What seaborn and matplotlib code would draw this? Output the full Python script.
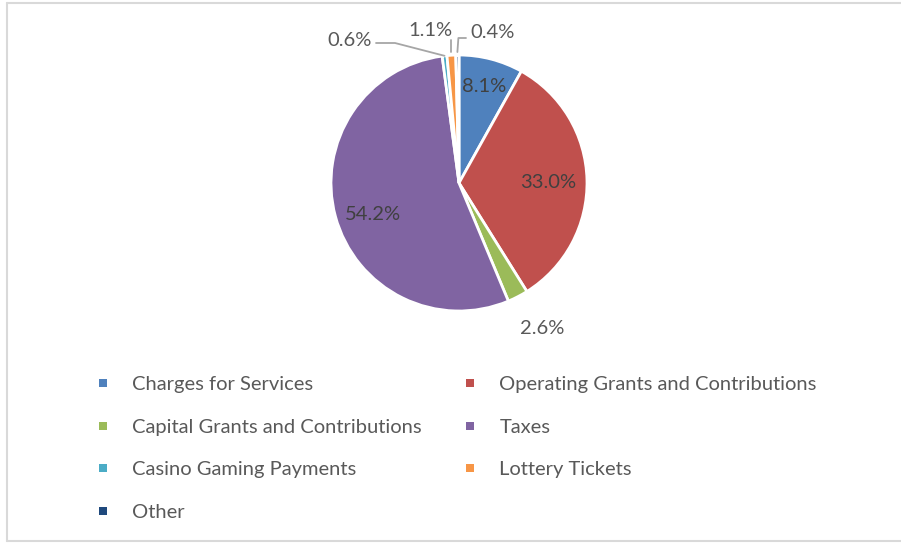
import matplotlib
matplotlib.use("Agg")
import matplotlib.pyplot as plt
import numpy as np
import seaborn as sns
from matplotlib.lines import Line2D

# revenue shares (%)
categories = ["Charges for Services", "Operating Grants and Contributions",
              "Capital Grants and Contributions", "Taxes",
              "Casino Gaming Payments", "Lottery Tickets", "Other"]
shares = [8.1, 33.0, 2.6, 54.2, 0.6, 1.1, 0.4]
palette = ["#4F81BD", "#C0504D", "#9BBB59", "#8064A2", "#4BACC6", "#F79646", "#1F497D"]

sns.set_theme(style="white")
plt.rcParams["font.family"] = ["Lato", "DejaVu Sans"]
colors = sns.color_palette(palette)
FS = 14.5

W, H = 901, 544
fig = plt.figure(figsize=(W / 100, H / 100), dpi=100)
ax = fig.add_axes([0, 0, 1, 1])

cx, cy, r = 459, H - 183, 128
wedges, _ = ax.pie(shares, colors=colors, startangle=90, counterclock=False,
                   center=(cx, cy), radius=r, frame=True,
                   wedgeprops=dict(edgecolor="white", linewidth=2))
ax.set_xlim(0, W)
ax.set_ylim(0, H)
ax.set_aspect("equal")
ax.axis("off")


def mid_point(w, frac, dy=0):
    a = np.deg2rad((w.theta1 + w.theta2) / 2)
    return cx + frac * r * np.cos(a), cy + frac * r * np.sin(a) + dy


txt_kw = dict(fontsize=FS, color="#404040", va="center")

# inside labels
for i, frac, dy in [(0, 0.78, 0), (1, 0.70, -2), (3, 0.70, -8)]:
    x, y = mid_point(wedges[i], frac, dy)
    ax.text(x, y, f"{shares[i]:.1f}%", ha="center", **txt_kw)

# outside labels
out_kw = dict(fontsize=FS, color="#595959", va="center")
ax.text(542, H - 328, f"{shares[2]:.1f}%", ha="center", **out_kw)

lc = "#A6A6A6"
x, y = mid_point(wedges[4], 1.0)
ax.plot([376, 395, x], [H - 43, H - 43, y], color=lc, lw=1.3)
ax.text(372, H - 40, f"{shares[4]:.1f}%", ha="right", **out_kw)

x, y = mid_point(wedges[5], 1.0)
ax.plot([x, x], [y + 3, H - 40], color=lc, lw=1.3)
ax.text(430, H - 30, f"{shares[5]:.1f}%", ha="center", **out_kw)

x, y = mid_point(wedges[6], 1.0)
ax.plot([x, x + 1, 466], [y + 3, H - 38, H - 38], color=lc, lw=1.3)
ax.text(470, H - 33, f"{shares[6]:.1f}%", ha="left", **out_kw)

# legend (row-major order like the original)
handles = [Line2D([], [], marker="s", ls="", markersize=5.5, color=c, markeredgewidth=0)
           for c in colors]
order = [0, 2, 4, 6, 1, 3, 5]
fig.legend([handles[i] for i in order], [categories[i] for i in order],
           ncol=2, loc="upper left", bbox_to_anchor=(97 / W, 1 - 376 / H),
           frameon=False, fontsize=FS, labelcolor="#595959",
           handlelength=0.6, handletextpad=1.15, labelspacing=1.27,
           columnspacing=2.1, borderaxespad=0, borderpad=0)

# chart border
bc = "#D9D9D9"
fig.add_artist(Line2D([6.5 / W, 6.5 / W], [1 - 3 / H, 1 - 541 / H], color=bc, lw=1.5))
fig.add_artist(Line2D([6.5 / W, 1], [1 - 3 / H, 1 - 3 / H], color=bc, lw=1.5))
fig.add_artist(Line2D([6.5 / W, 1], [1 - 541 / H, 1 - 541 / H], color=bc, lw=1.5))

fig.savefig("out.png", dpi=100, facecolor="white")
